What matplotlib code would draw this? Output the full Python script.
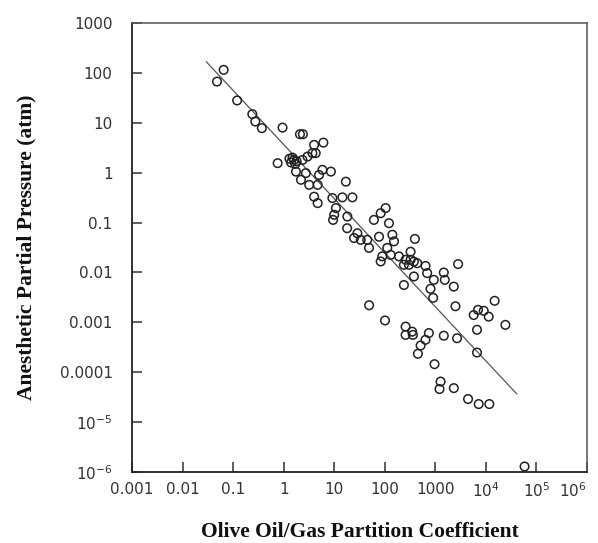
import numpy as np
import matplotlib
matplotlib.use('Agg')
import matplotlib.pyplot as plt
from matplotlib.ticker import FixedLocator, FixedFormatter, NullLocator

# ---------------------------------
# data

# olive oil/gas partition coefficient
oil_gas = [0.065, 0.048, 0.12, 0.24, 0.275, 0.37, 0.95, 2.1, 2.4, 0.76,
           1.4, 1.6, 1.5, 1.8, 1.3, 1.7,
           4.0, 6.1, 3.7, 4.3, 2.96, 2.36, 1.75, 2.75, 5.85, 8.6,
           5.0, 2.2, 3.2, 4.7, 17, 4.0, 4.7, 9.2, 14.5, 22.9,
           10.8, 10, 9.5, 18.2, 18, 28.7, 24.7, 33.5, 45, 48.8,
           77, 61, 83, 104, 121, 141, 152, 112, 89, 83,
           131, 191, 258, 324, 324, 394, 438, 641, 300, 377,
           239, 689, 377, 239, 1470, 1540, 2820, 933, 803, 905,
           2320, 2500, 5740, 6980, 9060, 11360, 14900, 6670, 24300, 258,
           348, 745, 1470, 49, 101, 258, 360, 638, 511, 452,
           2690, 964, 1270, 1210, 2320, 4440, 7210, 11700, 58200, 6670]

# anesthetic partial pressure (atm)
pressure = [115, 67, 28, 14.9, 10.6, 7.8, 8.0, 5.9, 5.9, 1.55,
            1.6, 1.8, 2.0, 1.7, 1.9, 1.5,
            3.6, 4.0, 2.46, 2.46, 2.1, 1.8, 1.05, 0.98, 1.14, 1.05,
            0.90, 0.72, 0.57, 0.57, 0.66, 0.33, 0.245, 0.31, 0.32, 0.32,
            0.195, 0.143, 0.113, 0.132, 0.077, 0.061, 0.049, 0.045, 0.045, 0.031,
            0.052, 0.113, 0.154, 0.195, 0.097, 0.057, 0.042, 0.031, 0.021, 0.0166,
            0.0225, 0.021, 0.0179, 0.0179, 0.026, 0.047, 0.0153, 0.0135, 0.0142, 0.0165,
            0.0142, 0.0097, 0.0083, 0.0056, 0.00996, 0.0071, 0.0147, 0.0071, 0.0047, 0.0031,
            0.0052, 0.0021, 0.0014, 0.00178, 0.0017, 0.0013, 0.0027, 0.00071, 0.00089, 0.00082,
            0.00065, 0.00061, 0.00054, 0.0022, 0.00109, 0.00056, 0.00056, 0.000446, 0.000343, 0.000234,
            0.00048, 0.000145, 6.5e-5, 4.6e-5, 4.8e-5, 2.9e-5, 2.3e-5, 2.3e-5, 1.29e-6, 0.000248]

# Meyer-Overton fit line endpoints
fit_x = [0.0297, 40500]
fit_y = [166, 3.7e-5]

x_ticks = [1e-3, 1e-2, 1e-1, 1, 10, 100, 1e3, 1e4, 1e5, 1e6]
x_labels = ['0.001', '0.01', '0.1', '1', '10', '100', '1000',
            r'$\mathregular{10^4}$', r'$\mathregular{10^5}$', r'$\mathregular{10^6}$']
y_ticks = [1e-6, 1e-5, 1e-4, 1e-3, 1e-2, 1e-1, 1, 10, 100, 1000]
y_labels = [r'$\mathregular{10^{-6}}$', r'$\mathregular{10^{-5}}$', '0.0001', '0.001',
            '0.01', '0.1', '1', '10', '100', '1000']

# ---------------------------------
# plot

plt.rcParams['font.family'] = ['DejaVu Sans']

fig = plt.figure(figsize=(5.98, 5.43), dpi=100)
ax = fig.add_axes([132 / 598, 1 - 472 / 543, 455 / 598, 449 / 543])

ax.plot(fit_x, fit_y, color='#555555', lw=0.9, zorder=2)
ax.scatter(oil_gas, pressure, s=38, facecolors='none', edgecolors='#222222',
           linewidths=1.1, zorder=3, clip_on=False)

ax.set_xscale('log')
ax.set_yscale('log')
ax.set_xlim(1e-3, 1e6)
ax.set_ylim(1e-6, 1e3)

ax.xaxis.set_major_locator(FixedLocator(x_ticks))
ax.xaxis.set_major_formatter(FixedFormatter(x_labels))
ax.yaxis.set_major_locator(FixedLocator(y_ticks))
ax.yaxis.set_major_formatter(FixedFormatter(y_labels))
ax.xaxis.set_minor_locator(NullLocator())
ax.yaxis.set_minor_locator(NullLocator())

ax.tick_params(direction='in', length=7, width=1.1, color='#333333',
               labelsize=11, labelcolor='#333333')
ax.tick_params(axis='y', pad=14)
ax.tick_params(axis='x', pad=7)

# last x label sits at the figure edge, nudge it in a little
ax.get_xticklabels()[-1].set_horizontalalignment('right')
ax.get_xticklabels()[-1].set_x(1e6)

for side in ['left', 'bottom']:
    ax.spines[side].set_linewidth(1.3)
    ax.spines[side].set_color('#222222')
for side in ['top', 'right']:
    ax.spines[side].set_linewidth(1.1)
    ax.spines[side].set_color('#555555')

ax.set_xlabel('Olive Oil/Gas Partition Coefficient', fontsize=15.5,
              fontweight='bold', family='Liberation Serif', color='#111111', va='center')
ax.xaxis.set_label_coords(0.5, -0.133)
ax.set_ylabel('Anesthetic Partial Pressure (atm)', fontsize=15.5,
              fontweight='bold', family='Liberation Serif', color='#111111', va='center')
ax.yaxis.set_label_coords(-0.231, 0.5)

fig.savefig('out.png', dpi=100)
